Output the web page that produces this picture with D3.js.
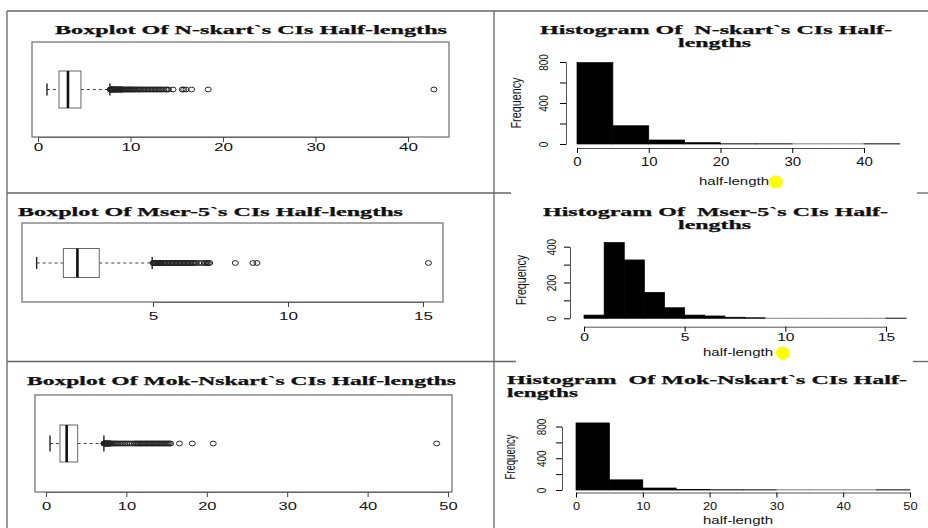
<!DOCTYPE html>
<html>
<head>
<meta charset="utf-8">
<script src="https://cdn.jsdelivr.net/npm/d3@7"></script>
<style>
  body { margin: 0; background: #fff; }
  text { white-space: pre; }
</style>
</head>
<body>
<div class="center"></div>
<script>
// ---- data ----

// boxplot stats: [lower whisker, Q1, median, Q3, upper whisker]
var nskartStats = [0.97, 2.27, 3.24, 4.64, 7.77];
var nskartOutliers = [7.8, 7.83, 7.86, 7.9, 7.93, 7.96, 8.0, 8.03, 8.06, 8.1, 8.13, 8.16, 8.2, 8.25,
    8.3, 8.35, 8.4, 8.45, 8.5, 8.55, 8.6, 8.65, 8.7, 8.75, 8.8, 8.85, 8.9, 8.95, 9.0, 9.05, 9.1,
    9.15, 9.2, 9.3, 9.4, 9.5, 9.6, 9.7, 9.8, 9.9, 10.0, 10.1, 10.2, 10.3, 10.4, 10.5, 10.65, 10.8,
    10.9, 11.0, 11.15, 11.3, 11.45, 11.6, 11.75, 11.9, 12.05, 12.2, 12.35, 12.5, 12.65, 12.8, 12.95,
    13.1, 13.25, 13.4, 13.6, 13.8, 13.95, 14.1, 14.6, 15.6, 15.75, 16.0, 16.6, 18.4, 42.8];
var nskartBoxTicks = [0, 10, 20, 30, 40];

var mserStats = [0.69, 1.68, 2.2, 3.01, 4.97];
var mserOutliers = [5.0, 5.02, 5.05, 5.08, 5.1, 5.13, 5.15, 5.18, 5.2, 5.23, 5.25, 5.28, 5.3, 5.35,
    5.4, 5.45, 5.5, 5.55, 5.6, 5.65, 5.7, 5.75, 5.8, 5.85, 5.9, 5.95, 6.0, 6.05, 6.1, 6.15, 6.2,
    6.25, 6.3, 6.35, 6.4, 6.45, 6.5, 6.55, 6.6, 6.7, 6.8, 6.9, 6.95, 7.0, 7.05, 7.1, 8.05, 8.7,
    8.85, 15.2];
var mserBoxTicks = [5, 10, 15];

var mokStats = [0.5, 1.74, 2.57, 3.94, 7.2];
var mokOutliers = [7.2, 7.23, 7.26, 7.3, 7.33, 7.36, 7.4, 7.45, 7.5, 7.55, 7.6, 7.65, 7.7, 7.75,
    7.8, 7.85, 7.9, 7.95, 8.0, 8.1, 8.2, 8.35, 8.5, 8.65, 8.8, 9.0, 9.2, 9.4, 9.6, 9.8, 10.0,
    10.25, 10.5, 10.75, 11.0, 11.15, 11.3, 11.45, 11.6, 11.75, 11.9, 12.05, 12.2, 12.35, 12.5,
    12.65, 12.8, 12.95, 13.1, 13.25, 13.4, 13.55, 13.7, 13.85, 14.0, 14.15, 14.3, 14.45, 14.6,
    14.75, 14.9, 15.05, 15.2, 15.35, 15.5, 16.6, 18.2, 20.8, 48.6];
var mokBoxTicks = [0, 10, 20, 30, 40, 50];

// histogram counts (bins start at 0)
var nskartBinWidth = 5;
var nskartCounts = [794, 178, 39, 13, 2, 1, 0, 0, 1];
var nskartHistXTicks = [0, 10, 20, 30, 40];
var nskartHistYTicks = [0, 200, 400, 600, 800];
var nskartHistYLabels = [0, 400, 800];

var mserBinWidth = 1;
var mserCounts = [18, 424, 326, 145, 59, 18, 13, 6, 3, 0, 0, 0, 0, 0, 0, 1];
var mserHistXTicks = [0, 5, 10, 15];
var mserHistYTicks = [0, 100, 200, 300, 400];
var mserHistYLabels = [0, 200, 400];

var mokBinWidth = 5;
var mokCounts = [845, 128, 25, 5, 3, 1, 0, 0, 0, 1];
var mokHistXTicks = [0, 10, 20, 30, 40, 50];
var mokHistYTicks = [0, 200, 400, 600, 800];
var mokHistYLabels = [0, 400, 800];

var boxTitles = ["Boxplot Of N-skart`s CIs Half-lengths",
                 "Boxplot Of Mser-5`s CIs Half-lengths",
                 "Boxplot Of Mok-Nskart`s CIs Half-lengths"];
var histTitles = [["Histogram Of  N-skart`s CIs Half-", "lengths"],
                  ["Histogram Of  Mser-5`s CIs Half-", "lengths"],
                  ["Histogram  Of Mok-Nskart`s CIs Half-", "lengths"]];

// ---- page ----
var width = 928, height = 528;
var sans = "Liberation Sans, Arial, Helvetica, sans-serif";
var serif = "Liberation Serif, Times New Roman, serif";

var svg = d3.select(".center").append("svg")
    .attr("width", width)
    .attr("height", height);

svg.append("rect").attr("width", width).attr("height", height).attr("fill", "#fff");

// panel separators
var seps = [[7, 11, 928, 11], [7, 11, 7, 528], [494, 11, 494, 528],
            [7, 193, 511, 193], [917, 193, 928, 193],
            [7, 361.5, 516, 361.5], [913, 361.5, 928, 361.5]];
svg.selectAll(".sep")
    .data(seps)
    .enter().append("line")
    .attr("x1", function(d) { return d[0]; })
    .attr("y1", function(d) { return d[1]; })
    .attr("x2", function(d) { return d[2]; })
    .attr("y2", function(d) { return d[3]; })
    .attr("stroke", "#666")
    .attr("stroke-width", 1.3);

function title(txt, x, y, len) {
    svg.append("text")
        .attr("x", x)
        .attr("y", y)
        .attr("font-family", serif)
        .attr("font-weight", "bold")
        .attr("font-size", "12px")
        .attr("fill", "#111")
        .attr("stroke", "#111")
        .attr("stroke-width", 0.25)
        .attr("textLength", len)
        .attr("lengthAdjust", "spacingAndGlyphs")
        .text(txt);
}

function drawBoxplot(p) {
    var x = d3.scaleLinear().domain(p.domain).range(p.range);
    var f = p.frame, s = p.stats, cy = p.cy;

    // plot frame
    svg.append("rect")
        .attr("x", f[0]).attr("y", f[1])
        .attr("width", f[2] - f[0]).attr("height", f[3] - f[1])
        .attr("fill", "none").attr("stroke", "#777").attr("stroke-width", 1.3);

    // dashed whiskers
    [[s[0], s[1]], [s[3], s[4]]].forEach(function(w) {
        svg.append("line")
            .attr("x1", x(w[0])).attr("x2", x(w[1]))
            .attr("y1", cy).attr("y2", cy)
            .attr("stroke", "#444").attr("stroke-width", 1)
            .attr("stroke-dasharray", "3,3");
    });

    // whisker caps
    [s[0], s[4]].forEach(function(v) {
        svg.append("line")
            .attr("x1", x(v)).attr("x2", x(v))
            .attr("y1", cy - p.cap).attr("y2", cy + p.cap)
            .attr("stroke", "#222").attr("stroke-width", 1.4);
    });

    // box
    svg.append("rect")
        .attr("x", x(s[1])).attr("y", cy - p.half)
        .attr("width", x(s[3]) - x(s[1])).attr("height", 2 * p.half)
        .attr("fill", "#fff").attr("stroke", "#666").attr("stroke-width", 1);

    // median
    svg.append("line")
        .attr("x1", x(s[2])).attr("x2", x(s[2]))
        .attr("y1", cy - p.half).attr("y2", cy + p.half)
        .attr("stroke", "#111").attr("stroke-width", 2.6);

    // outliers
    svg.append("g").selectAll("ellipse")
        .data(p.outliers)
        .enter().append("ellipse")
        .attr("cx", function(d) { return x(d); })
        .attr("cy", cy)
        .attr("rx", 3).attr("ry", 2.4)
        .attr("fill", "none").attr("stroke", "#222").attr("stroke-width", 1);

    // axis
    var ax = svg.append("g")
        .attr("transform", "translate(0," + f[3] + ")")
        .call(d3.axisBottom(x).tickValues(p.ticks).tickSize(5).tickSizeOuter(0)
            .tickPadding(p.pad).tickFormat(d3.format("d")));
    ax.select(".domain").attr("stroke", "#666");
    ax.selectAll(".tick line").attr("stroke", "#444");
    ax.selectAll("text")
        .attr("font-family", sans)
        .attr("font-size", "11px")
        .attr("fill", "#111")
        .attr("transform", "scale(" + p.stretch + ",1)");

    title(p.title, p.titleX, p.titleY, p.titleLen);
}

function drawHist(p) {
    var x = d3.scaleLinear().domain(p.xDomain).range(p.xRange);
    var y = d3.scaleLinear().domain(p.yDomain).range(p.yRange);

    // bars (empty bins still leave a thin line on the baseline)
    svg.append("g").selectAll("rect")
        .data(p.counts)
        .enter().append("rect")
        .attr("x", function(d, i) { return x(i * p.bin); })
        .attr("width", function(d, i) { return x((i + 1) * p.bin) - x(i * p.bin); })
        .attr("y", function(d) { return Math.min(y(d), y(0) - 0.2); })
        .attr("height", function(d) { return Math.max(y(0) - y(d), 0.2); })
        .attr("fill", "#000")
        .attr("stroke", function(d) { return d > 0 ? "#000" : "#888"; })
        .attr("stroke-width", 0.7);

    // x axis
    var xa = svg.append("g")
        .attr("transform", "translate(0," + p.xAxisY + ")")
        .call(d3.axisBottom(x).tickValues(p.xTicks).tickSize(5).tickSizeOuter(0)
            .tickPadding(p.xPad).tickFormat(d3.format("d")));
    xa.select(".domain").attr("stroke", "#555");
    xa.selectAll("text")
        .attr("font-family", sans)
        .attr("font-size", p.xFont + "px")
        .attr("fill", "#111")
        .attr("transform", "scale(" + p.stretch + ",1)");

    // y axis
    var ya = svg.append("g")
        .attr("transform", "translate(" + p.yAxisX + ",0)")
        .call(d3.axisLeft(y).tickValues(p.yTicks).tickSize(6).tickSizeOuter(0)
            .tickFormat(function(d) { return p.yLabels.indexOf(d) >= 0 ? d : ""; }));
    ya.select(".domain").attr("stroke", "#555");
    ya.selectAll("text")
        .attr("x", 0).attr("dy", 0)
        .attr("text-anchor", "middle")
        .attr("font-family", sans)
        .attr("font-size", "10px")
        .attr("fill", "#111")
        .attr("transform", "translate(" + p.yLabOff + ",0) scale(1.3,1) rotate(-90)");

    // axis titles
    svg.append("text")
        .attr("transform", "translate(" + p.freqX + "," + p.freqY + ") scale(1.25,1) rotate(-90)")
        .attr("text-anchor", "middle")
        .attr("font-family", sans)
        .attr("font-size", "11px")
        .attr("fill", "#111")
        .attr("textLength", p.freqLen)
        .attr("lengthAdjust", "spacingAndGlyphs")
        .text("Frequency");

    svg.append("text")
        .attr("x", p.labX - 35)
        .attr("y", p.labY)
        .attr("font-family", sans)
        .attr("font-size", "11px")
        .attr("fill", "#111")
        .attr("textLength", 70)
        .attr("lengthAdjust", "spacingAndGlyphs")
        .text("half-length");

    if (p.marker) {
        svg.append("ellipse")
            .attr("cx", p.marker[0]).attr("cy", p.marker[1])
            .attr("rx", 7).attr("ry", 6.5)
            .attr("fill", "#ffff00");
    }

    title(p.titles[0], p.t1[0], p.t1[1], p.t1[2]);
    title(p.titles[1], p.t2[0], p.t2[1], p.t2[2]);
}

// ---- left column: boxplots ----
drawBoxplot({
    stats: nskartStats, outliers: nskartOutliers, ticks: nskartBoxTicks,
    domain: [0, 40], range: [38, 408], frame: [32, 42, 449, 137],
    cy: 89.5, half: 18.5, cap: 6, pad: 1, stretch: 1.55,
    title: boxTitles[0], titleX: 55, titleY: 33.5, titleLen: 392
});
drawBoxplot({
    stats: mserStats, outliers: mserOutliers, ticks: mserBoxTicks,
    domain: [5, 15], range: [153, 423], frame: [22, 223, 443, 302],
    cy: 263, half: 14.5, cap: 6, pad: 5, stretch: 1.55,
    title: boxTitles[1], titleX: 18, titleY: 216, titleLen: 385
});
drawBoxplot({
    stats: mokStats, outliers: mokOutliers, ticks: mokBoxTicks,
    domain: [0, 50], range: [46, 448], frame: [35, 395, 452, 492],
    cy: 443.5, half: 18.5, cap: 8, pad: 5, stretch: 1.5,
    title: boxTitles[2], titleX: 27, titleY: 385, titleLen: 429
});

// ---- right column: histograms ----
drawHist({
    counts: nskartCounts, bin: nskartBinWidth,
    xDomain: [0, 40], xRange: [577, 864], yDomain: [0, 800], yRange: [144, 62],
    xTicks: nskartHistXTicks, yTicks: nskartHistYTicks, yLabels: nskartHistYLabels,
    xAxisY: 148, xPad: 4, xFont: 12, stretch: 1.25, yAxisX: 566, yLabOff: -18,
    freqX: 521, freqY: 103, freqLen: 51, labX: 734, labY: 185,
    marker: [776, 181.7],
    titles: histTitles[0], t1: [540, 33.5, 352], t2: [678, 46.5, 73]
});
drawHist({
    counts: mserCounts, bin: mserBinWidth,
    xDomain: [0, 15], xRange: [584, 886], yDomain: [0, 400], yRange: [318.3, 246.7],
    xTicks: mserHistXTicks, yTicks: mserHistYTicks, yLabels: mserHistYLabels,
    xAxisY: 326.7, xPad: 1, xFont: 11, stretch: 1.42, yAxisX: 570, yLabOff: -14,
    freqX: 526, freqY: 280, freqLen: 50, labX: 738, labY: 355.5,
    marker: [783, 352.7],
    titles: histTitles[1], t1: [543, 216, 345], t2: [678, 228.5, 73]
});
drawHist({
    counts: mokCounts, bin: mokBinWidth,
    xDomain: [0, 50], xRange: [576, 910], yDomain: [0, 800], yRange: [490, 426.5],
    xTicks: mokHistXTicks, yTicks: mokHistYTicks, yLabels: mokHistYLabels,
    xAxisY: 492.5, xPad: 5, xFont: 11, stretch: 1.17, yAxisX: 562, yLabOff: -16,
    freqX: 515, freqY: 457, freqLen: 45, labX: 738, labY: 524,
    marker: null,
    titles: histTitles[2], t1: [507, 384, 400], t2: [507, 397, 71]
});
</script>
</body>
</html>
